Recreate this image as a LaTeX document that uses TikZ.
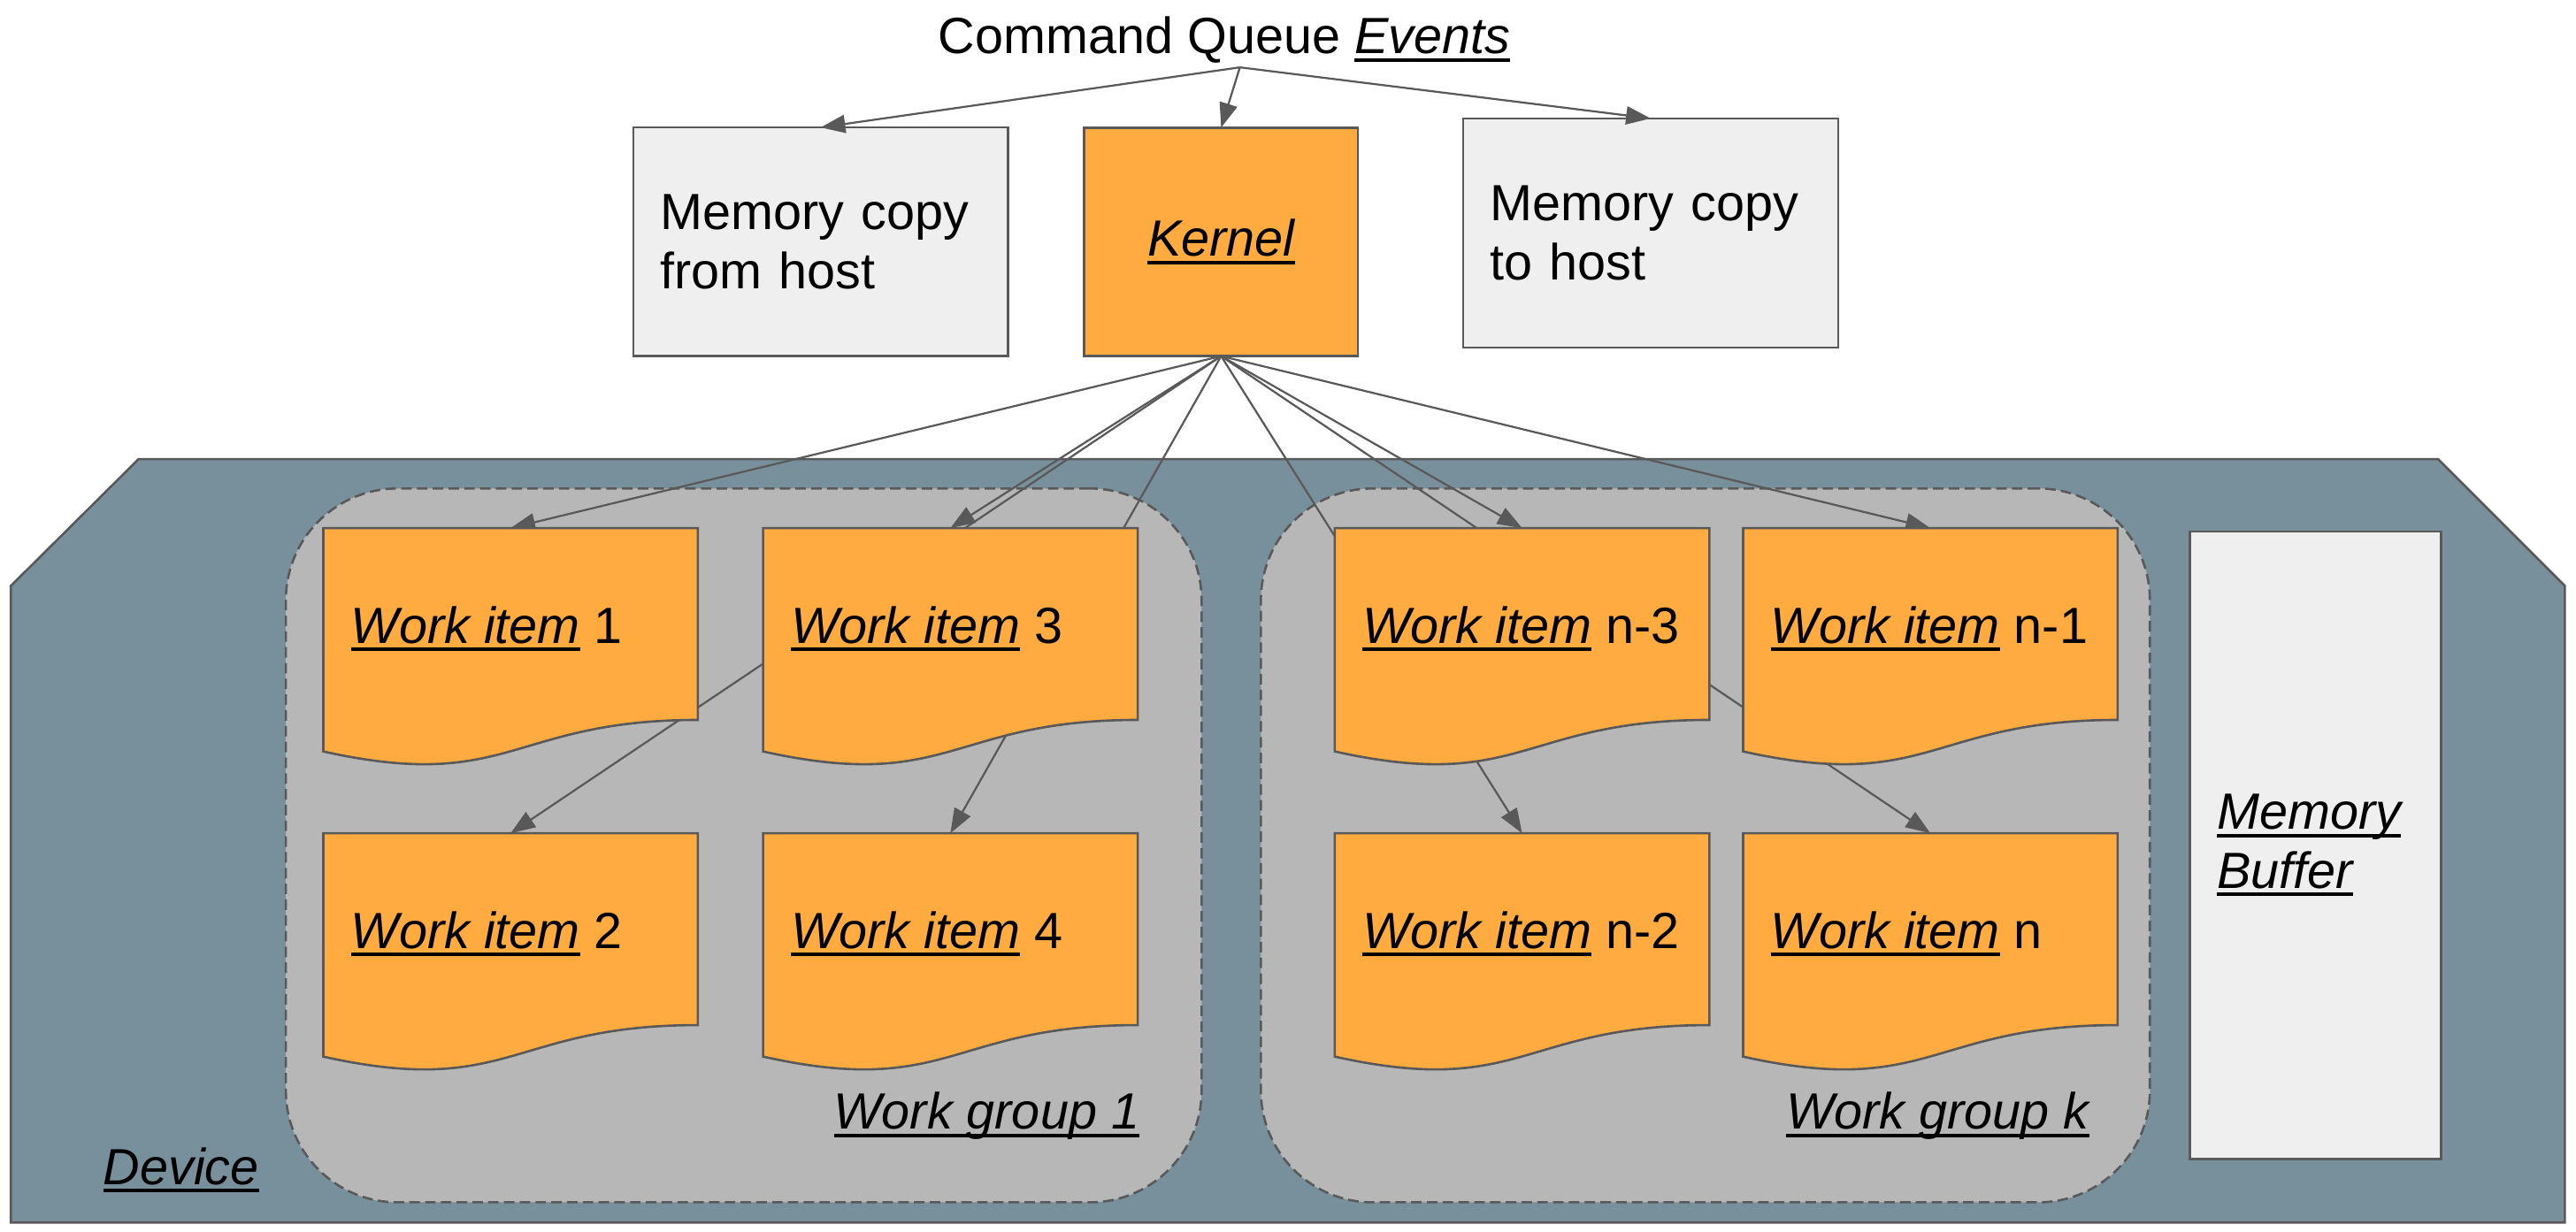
\documentclass[tikz,border=0pt]{standalone}
\usepackage{fontspec}
\setmainfont{Liberation Sans}
\usetikzlibrary{arrows.meta}
\definecolor{bordergray}{HTML}{595959}
\definecolor{wiorange}{HTML}{FFAB40}
\definecolor{devblue}{HTML}{78909C}
\definecolor{wggray}{HTML}{B7B7B7}
\definecolor{memlight}{HTML}{EFEFEF}
\newcommand{\uli}[1]{\leavevmode\begingroup\setbox0\hbox{\itshape #1}\rlap{\rule[-2.4pt]{\wd0}{1.1pt}}\box0\endgroup}
\newcommand{\wavedoc}[1]{%
  \filldraw[docfill] (#1.north west) -- (#1.north east) -- ([yshift=-58.4pt]#1.north east)
    .. controls ([xshift=-57pt,yshift=-58.4pt]#1.north east) and ([xshift=57pt,yshift=-80.65pt]#1.north west)
    .. ([yshift=-68pt]#1.north west) -- cycle;}
\begin{document}
\begin{tikzpicture}[x=0.5pt,y=-0.5pt,
  font=\fontsize{15.5}{18}\selectfont,
  plainbox/.style={draw=bordergray, line width=0.7pt, inner sep=0pt, outer sep=0pt},
  membox/.style={plainbox, fill=memlight, align=left, inner xsep=8.25pt, anchor=north west},
  kernelbox/.style={plainbox, fill=wiorange},
  wgbox/.style={draw=bordergray, fill=wggray, line width=0.7pt, dash pattern=on 3.2pt off 1.6pt,
    rounded corners=34pt, inner sep=0pt, outer sep=0pt, anchor=north west},
  wislot/.style={inner sep=0pt, outer sep=0pt, minimum width=114pt, minimum height=72.8pt, anchor=north west},
  docfill/.style={draw=bordergray, fill=wiorange, line width=0.7pt},
  conn/.style={draw=bordergray, line width=0.6pt, -{Triangle[length=7.5pt,width=5.5pt]}},
  devicefill/.style={draw=bordergray, fill=devblue, line width=0.7pt},
  lbl/.style={inner sep=0pt, anchor=base west},
  lblr/.style={inner sep=0pt, anchor=base east}]
\useasboundingbox (0,0) rectangle (1568,749.6);

% device
\filldraw[devicefill] (6.6,356.7) -- (84.4,279.5) -- (1484,279.5) -- (1561.2,356.7)
  -- (1561.2,744.3) -- (6.6,744.3) -- cycle;
\node[lbl] (devt) at (62.5,721) {\uli{Device}};

% work groups
\node[wgbox, minimum width=278.7pt, minimum height=217.3pt] (wg1) at (174,297.4) {};
\node[wgbox, minimum width=270.55pt, minimum height=217.3pt] (wgk) at (767.5,297.4) {};
\node[lblr] (wg1t) at (694,687.5) {\uli{Work group 1}};
\node[lblr] (wgkt) at (1272,687.5) {\uli{Work group k}};

% memory buffer
\node[membox, minimum width=76.5pt, minimum height=191.05pt, text width=60pt] (membuf)
  at (1333,323.6) {\uli{Memory}\\\uli{Buffer}};

% title and top boxes
\node[inner sep=0pt, anchor=base] (cq) at (745.2,32.8) {Command Queue \uli{Events}};
\coordinate (cqo) at (754.7,41);
\node[membox, minimum width=114pt, minimum height=69.5pt, text width=97.5pt] (mfh)
  at (385.5,77.6) {Memory copy\\from host};
\node[kernelbox, minimum width=83.3pt, minimum height=69.55pt] (kernel)
  at (743.3,147.25) {\uli{Kernel}};
\node[membox, minimum width=114.2pt, minimum height=69.75pt, text width=97.7pt] (mth)
  at (890.6,72.1) {Memory copy\\to host};

% work item slots
\node[wislot] (wi1) at (196.8,321.5) {};
\node[wislot] (wi3) at (464.5,321.5) {};
\node[wislot] (wi2) at (196.8,507.3) {};
\node[wislot] (wi4) at (464.5,507.3) {};
\node[wislot] (win3) at (812.5,321.5) {};
\node[wislot] (win1) at (1061,321.5) {};
\node[wislot] (win2) at (812.5,507.3) {};
\node[wislot] (win) at (1061,507.3) {};

% connectors
\draw[conn] (cqo) -- (mfh.north);
\draw[conn] (cqo) -- (kernel.north);
\draw[conn] (cqo) -- (mth.north);
\foreach \t in {wi1,wi2,wi3,wi4,win3,win1,win2,win}
  \draw[conn] (kernel.south) -- (\t.north);

% work item shapes
\wavedoc{wi1}
\wavedoc{wi3}
\wavedoc{wi2}
\wavedoc{wi4}
\wavedoc{win3}
\wavedoc{win1}
\wavedoc{win2}
\wavedoc{win}

% work item texts
\node[lbl] (wi1t) at (213.3,391.5) {\uli{Work item} 1};
\node[lbl] (wi3t) at (481,391.5) {\uli{Work item} 3};
\node[lbl] (wi2t) at (213.3,577.3) {\uli{Work item} 2};
\node[lbl] (wi4t) at (481,577.3) {\uli{Work item} 4};
\node[lbl] (win3t) at (829,391.5) {\uli{Work item} n-3};
\node[lbl] (win1t) at (1077.5,391.5) {\uli{Work item} n-1};
\node[lbl] (win2t) at (829,577.3) {\uli{Work item} n-2};
\node[lbl] (wint) at (1077.5,577.3) {\uli{Work item} n};
\end{tikzpicture}
\end{document}
